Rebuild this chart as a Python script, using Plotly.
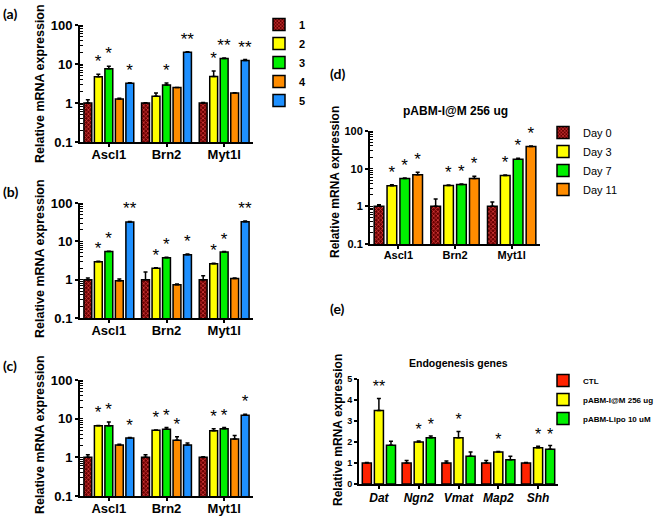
import plotly.graph_objects as go

# ---------------- data ----------------
genes = ["Ascl1", "Brn2", "Myt1l"]
series_abc = ["1", "2", "3", "4", "5"]

a_vals = [[1.0, 1.0, 1.0], [4.7, 1.48, 4.75], [7.5, 2.9, 13.8], [1.27, 2.48, 1.8], [3.2, 20.0, 12.3]]
a_err = [[0.22, 0.02, 0.03], [0.8, 0.32, 1.85], [1.3, 0.37, 0.5], [0.05, 0.03, 0.04], [0.1, 0.5, 0.7]]
a_stars = [["", "", ""], ["*", "", "*"], ["*", "*", "**"], ["", "", ""], ["*", "**", "**"]]

b_vals = [[1.0, 1.0, 1.0], [2.95, 2.0, 2.6], [5.4, 3.75, 5.3], [0.94, 0.74, 1.08], [32.0, 4.5, 32.6]]
b_err = [[0.1, 0.58, 0.27], [0.08, 0.05, 0.1], [0.1, 0.1, 0.1], [0.1, 0.03, 0.03], [1.0, 0.15, 1.4]]
b_stars = [["", "", ""], ["*", "*", "*"], ["*", "*", "*"], ["", "", ""], ["**", "*", "**"]]

c_vals = [[1.0, 1.0, 1.0], [6.6, 5.0, 4.9], [6.6, 5.3, 5.5], [2.09, 2.76, 2.99], [3.17, 2.09, 12.3]]
c_err = [[0.17, 0.17, 0.04], [0.1, 0.1, 0.6], [1.6, 0.6, 0.4], [0.1, 0.64, 0.66], [0.08, 0.26, 0.7]]
c_stars = [["", "", ""], ["*", "*", "*"], ["*", "*", "*"], ["", "*", ""], ["*", "", "*"]]

days = ["Day 0", "Day 3", "Day 7", "Day 11"]
d_vals = [[1.0, 1.0, 1.0], [3.53, 3.6, 6.6], [5.5, 3.8, 17.9], [6.9, 5.5, 38.8]]
d_err = [[0.1, 0.56, 0.3], [0.22, 0.1, 0.2], [0.15, 0.1, 1.1], [1.1, 0.8, 1.0]]
d_stars = [["", "", ""], ["*", "*", "*"], ["*", "*", "*"], ["*", "*", "*"]]

e_genes = ["Dat", "Ngn2", "Vmat", "Map2", "Shh"]
e_series = ["CTL", "pABM-I@M 256 ug", "pABM-Lipo 10 uM"]
e_vals = [[1.0, 1.0, 1.0, 1.0, 1.0], [3.5, 2.0, 2.2, 1.52, 1.73], [1.85, 2.2, 1.32, 1.15, 1.65]]
e_err = [[0.02, 0.12, 0.1, 0.12, 0.02], [0.57, 0.05, 0.3, 0.03, 0.07], [0.18, 0.08, 0.2, 0.17, 0.18]]
e_stars = [["", "", "", "", ""], ["**", "*", "*", "*", "*"], ["", "*", "", "", "*"]]

# ---------------- styles ----------------
colors5 = ["#8b0000", "#ffff00", "#00f000", "#ff8c00", "#1e90ff"]
colors_e = ["#ff2200", "#ffff00", "#00f000"]
FONT = "Liberation Sans, Arial, sans-serif"

fig = go.Figure()


def add_panel(xa, ya, cats, names, vals, errs, stars, colors, legend, showlegend, star_size=17):
    for i, name in enumerate(names):
        marker = dict(color=colors[i], line=dict(color="black", width=1.5))
        if i == 0 and colors[i] == "#8b0000":
            marker["pattern"] = dict(shape="x", size=3, solidity=0.45,
                                     fgcolor="#d23a3a", bgcolor="#6a0000")
        fig.add_trace(go.Bar(
            x=cats, y=vals[i], name=name, xaxis=xa, yaxis=ya,
            offsetgroup=str(i), marker=marker,
            error_y=dict(type="data", array=errs[i], arrayminus=[0] * len(cats),
                         symmetric=False, color="black", thickness=1.5, width=2),
            legend=legend, showlegend=showlegend, hoverinfo="skip"))
        tops = [v + e for v, e in zip(vals[i], errs[i])]
        fig.add_trace(go.Bar(
            x=cats, y=[t * 0.001 for t in tops], base=tops, xaxis=xa, yaxis=ya,
            offsetgroup=str(i), marker=dict(color="rgba(0,0,0,0)", line=dict(width=0)),
            text=stars[i], textposition="outside", constraintext="none", textangle=0,
            cliponaxis=False,
            textfont=dict(family=FONT, size=star_size, color="black"),
            showlegend=False, hoverinfo="skip"))


add_panel("x", "y", genes, series_abc, a_vals, a_err, a_stars, colors5, "legend", True)
add_panel("x2", "y2", genes, series_abc, b_vals, b_err, b_stars, colors5, "legend", False)
add_panel("x3", "y3", genes, series_abc, c_vals, c_err, c_stars, colors5, "legend", False)
add_panel("x4", "y4", genes, days, d_vals, d_err, d_stars, colors5, "legend2", True)
add_panel("x5", "y5", e_genes, e_series, e_vals, e_err, e_stars, colors_e, "legend3", True, star_size=16)


def xax(domain, anchor, n, size, italic=False, standoff=-4):
    return dict(domain=domain, anchor=anchor, type="category", range=[-0.5, n - 0.5],
                automargin=False, ticklabelstandoff=standoff,
                showline=True, linecolor="black", linewidth=2, ticks="outside",
                ticklen=3, tickwidth=1.5, tickcolor="black", showgrid=False, zeroline=False,
                tickfont=dict(family=FONT, size=size, color="black", weight="bold",
                              style="italic" if italic else "normal"),
                fixedrange=True)


def ylog(domain, anchor, size):
    return dict(domain=domain, anchor=anchor, type="log", range=[-1, 2], dtick=1,
                automargin=False,
                showline=True, linecolor="black", linewidth=2, ticks="outside",
                ticklen=3, tickwidth=1.5, tickcolor="black", showgrid=False, zeroline=False,
                tickfont=dict(family=FONT, size=size, color="black", weight="bold"),
                minor=dict(ticks="inside", ticklen=3, tickwidth=1, tickcolor="black",
                           dtick="D1", showgrid=False),
                fixedrange=True)


W, H = 660, 518


def dx(a, b):
    return [a / W, b / W]


def dy(top, bottom):
    return [1 - bottom / H, 1 - top / H]


fig.update_layout(
    template="none",
    width=W, height=H, margin=dict(l=0, r=0, t=0, b=0, autoexpand=False),
    paper_bgcolor="white", plot_bgcolor="white",
    barmode="group", bargap=0.09, bargroupgap=0.25,
    font=dict(family=FONT, color="black"),
    xaxis=xax(dx(80, 253), "y", 3, 13),
    yaxis=ylog(dy(25, 142), "x", 13),
    xaxis2=xax(dx(80, 253), "y2", 3, 13),
    yaxis2=ylog(dy(203, 318), "x2", 13),
    xaxis3=xax(dx(80, 253), "y3", 3, 13),
    yaxis3=ylog(dy(380, 496), "x3", 13),
    xaxis4=xax(dx(370, 540), "y4", 3, 11, standoff=-3),
    yaxis4=ylog(dy(131, 244), "x4", 11),
    xaxis5=xax(dx(359, 558), "y5", 5, 12, italic=True, standoff=-1),
    yaxis5=dict(domain=dy(379, 484), anchor="x5", range=[0, 5], dtick=1, automargin=False,
                showline=True, linecolor="black", linewidth=2, ticks="outside",
                ticklen=3, tickwidth=1.5, tickcolor="black", showgrid=False, zeroline=False,
                tickfont=dict(family=FONT, size=9, color="black", weight="bold"),
                fixedrange=True),
    legend=dict(x=259 / W, y=1 - 10 / H, xanchor="left", yanchor="top",
                font=dict(family=FONT, size=11, weight="bold"), bgcolor="rgba(0,0,0,0)",
                tracegroupgap=0),
    legend2=dict(x=543 / W, y=1 - 118 / H, xanchor="left", yanchor="top",
                 font=dict(family=FONT, size=11), bgcolor="rgba(0,0,0,0)", tracegroupgap=0),
    legend3=dict(x=543 / W, y=1 - 366 / H, xanchor="left", yanchor="top",
                 font=dict(family=FONT, size=8, weight="bold"), bgcolor="rgba(0,0,0,0)",
                 tracegroupgap=0),
)

ann = []


def ytitle(xc, yc, size):
    ann.append(dict(text="<b>Relative mRNA expression</b>", x=xc / W, y=1 - yc / H,
                    xref="paper", yref="paper", xanchor="center", yanchor="middle",
                    textangle=-90, showarrow=False,
                    font=dict(family=FONT, size=size, color="black")))


ytitle(40, 84, 12.5)
ytitle(40, 259, 12.5)
ytitle(40, 435, 12.5)
ytitle(335, 182, 12)
ytitle(338, 430, 12)


def label(txt, x, yc):
    ann.append(dict(text="<b>" + txt + "</b>", x=x / W, y=1 - yc / H, xref="paper", yref="paper",
                    xanchor="left", yanchor="middle", showarrow=False,
                    font=dict(family="Lato, Liberation Sans, sans-serif", size=14, color="black")))


label("(a)", 1, 14)
label("(b)", 1, 191)
label("(c)", 1, 365)
label("(d)", 328, 73)
label("(e)", 328, 308)

ann.append(dict(text="<b>pABM-I@M 256 ug</b>", x=455 / W, y=1 - 111 / H, xref="paper", yref="paper",
                xanchor="center", yanchor="middle", showarrow=False,
                font=dict(family=FONT, size=12, color="black")))
ann.append(dict(text="<b>Endogenesis genes</b>", x=458 / W, y=1 - 363 / H, xref="paper", yref="paper",
                xanchor="center", yanchor="middle", showarrow=False,
                font=dict(family=FONT, size=10.5, color="black")))

fig.update_layout(annotations=ann)

fig.write_html("out.html", config={"displayModeBar": False},
               post_script="document.body.style.margin='0';document.body.style.overflow='hidden';")
